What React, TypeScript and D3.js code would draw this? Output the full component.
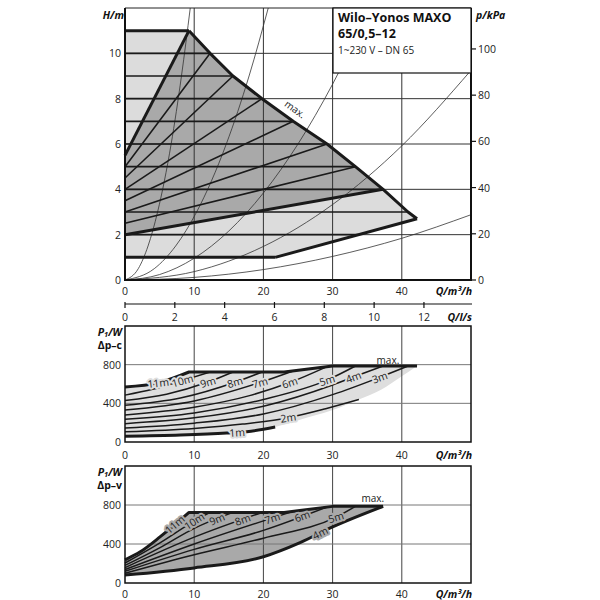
import React from 'react';
import * as d3 from 'd3';

// ---------- axis ticks ----------
const qTicks = [0, 10, 20, 30, 40];
const hTicks = [0, 2, 4, 6, 8, 10];
const kpaTicks = [0, 20, 40, 60, 80, 100];
const lsTicks = [0, 2, 4, 6, 8, 10, 12];
const pTicks = [0, 400, 800];
const qGrid = [10, 20, 30, 40];
const hGrid = [2, 4, 6, 8, 10];
const pGrid = [400, 800];

// ---------- H-Q field ----------
const headLevels = [1, 2, 3, 4, 5, 6, 7, 8, 9, 10, 11];
const dpcEndQ = [21.7, 33.8, 40.9, 37.3, 33.3, 29.2, 24.3, 19.8, 15.6, 12.3, 9.25];
const dpvLevels = [4, 5, 6, 7, 8, 9, 10, 11];
const dpvStartH = [2, 2.5, 3, 3.5, 4, 4.5, 5, 5.5];
const maxCorner: [number, number] = [42.2, 2.7];
const minCurve: [number, number][] = [[0, 1], [21.7, 1], [42.2, 2.7]];

const sysCurves: [number, number][][] = [
  [[0, 0], [1.92, 0.5], [3.33, 1.5], [4.71, 3], [6.67, 6], [8.16, 9], [9.43, 12]],
  [[0, 0], [4.23, 0.5], [7.32, 1.5], [10.35, 3], [14.64, 6], [17.93, 9], [20.7, 12]],
  [[0, 0], [5, 0.24], [10, 0.96], [15, 2.16], [20, 3.84], [25, 6.0], [30, 8.64], [35.4, 12]],
  [[0, 0], [10, 0.37], [20, 1.48], [30, 3.33], [40, 5.92], [50, 9.25]],
  [[0, 0], [10, 0.115], [20, 0.46], [30, 1.04], [40, 1.84], [50, 2.88]],
];

// ---------- P1 (Δp-c) ----------
const dpcPower: [number, number][][] = [
  [[0, 60], [8, 72], [14.7, 92], [17.6, 106], [21.7, 155]],
  [[0, 105], [10, 140], [17, 185], [23.6, 252], [29, 345], [33.8, 440]],
  [[0, 145], [10, 195], [20, 290], [30, 490], [36.8, 669], [40.9, 786]],
  [[0, 190], [10, 250], [20, 370], [30, 590], [33, 672], [37.3, 786]],
  [[0, 235], [10, 300], [20, 440], [29.2, 640], [33.3, 786]],
  [[0, 280], [10, 360], [18, 480], [23.8, 615], [29.2, 780]],
  [[0, 330], [10, 425], [19.5, 615], [24.3, 735]],
  [[0, 380], [8, 455], [15.9, 618], [19.8, 724]],
  [[0, 430], [6, 495], [12, 620], [15.6, 724]],
  [[0, 485], [4, 545], [8.3, 635], [12.3, 724]],
  [[0, 570], [4.8, 612], [9.25, 724]],
];
const dpcMinPower: [number, number][] = [[21.7, 155], [25.3, 230], [30, 330], [33.8, 440], [37, 540], [40, 680], [42.2, 786]];
const dpcLabelQ = [16.2, 23.6, 36.8, 33, 29.2, 23.8, 19.5, 15.9, 12, 8.3, 4.8];

// ---------- P1 (Δp-v) ----------
const dpvPower: [number, number][][] = [
  [[0, 82], [10, 155], [20, 269], [25.3, 414], [30, 575], [37.3, 786]],
  [[0, 100], [10, 290], [20, 460], [30.5, 675], [33.3, 786]],
  [[0, 120], [10, 345], [20, 540], [29.2, 780]],
  [[0, 138], [10, 400], [24.3, 735]],
  [[0, 158], [10, 470], [19.8, 724]],
  [[0, 180], [5, 360], [10, 560], [15.6, 724]],
  [[0, 205], [5, 410], [10, 635], [12.3, 724]],
  [[0, 238], [2.2, 320], [5.1, 475], [9.25, 724]],
];
const dpvLabelQ = [28.2, 30.5, 25.6, 21.3, 17, 13.3, 10, 7.2];

// power limit envelope
const powerLimit: [number, number][] = [[9.25, 724], [23, 724], [30, 786]];
const maxPower = 786;

// ---------- scales ----------
const xQ = d3.scaleLinear().domain([0, 50]).range([125, 471]);
const yH = d3.scaleLinear().domain([0, 12]).range([280, 8]);
const yKpa = d3.scaleLinear().domain([0, 12 * 9.81]).range([280, 8]);
const xLs = d3.scaleLinear().domain([0, 50 / 3.6]).range([125, 471]);
const yP1 = d3.scaleLinear().domain([0, 1200]).range([442, 326]);
const yP2 = d3.scaleLinear().domain([0, 1200]).range([583, 466]);

const FONT = "'Open Sans', 'DejaVu Sans', sans-serif";
const INK = '#1a1a1a';

function mkLine(ys: d3.ScaleLinear<number, number>, curve = true) {
  const l = d3.line<[number, number]>().x(d => xQ(d[0])).y(d => ys(d[1]));
  if (curve) l.curve(d3.curveMonotoneX);
  return l;
}
const lineH = mkLine(yH, false);
const sysLine = mkLine(yH, true);
const lineP1 = mkLine(yP1);
const lineP2 = mkLine(yP2);
const polyP1 = mkLine(yP1, false);
const polyP2 = mkLine(yP2, false);

const cont = (p: string | null) => 'L' + (p || '').slice(1);

function labelAt(pts: [number, number][], q: number, ys: d3.ScaleLinear<number, number>) {
  let i = 0;
  while (i < pts.length - 2 && pts[i + 1][0] < q) i++;
  const a = pts[i], b = pts[i + 1];
  const t = (q - a[0]) / (b[0] - a[0]);
  const p = a[1] + t * (b[1] - a[1]);
  const ang = Math.atan2(ys(b[1]) - ys(a[1]), xQ(b[0]) - xQ(a[0])) * 180 / Math.PI;
  return { x: xQ(q), y: ys(p), ang };
}

export default function App() {
  // top chart polygons
  const maxCurvePts: [number, number][] = [];
  for (let h = 11; h >= 3; h--) maxCurvePts.push([dpcEndQ[h - 1], h]);
  maxCurvePts.push(maxCorner);
  const lightPoly: [number, number][] = [...minCurve, ...maxCurvePts.slice().reverse(), [0, 11]];
  const darkPoly: [number, number][] = [[0, 2]];
  for (let h = 4; h <= 11; h++) darkPoly.push([dpcEndQ[h - 1], h]);
  darkPoly.push([0, 5.5]);

  // middle fill
  const p11c = dpcPower[10];
  const p1c = dpcPower[0];
  const midFill =
    lineP1(p11c) +
    cont(polyP1([...powerLimit, [maxCorner[0], maxPower]])) +
    cont(lineP1(dpcMinPower.slice().reverse())) +
    cont(lineP1(p1c.slice().reverse())) + 'Z';
  const midTop = lineP1(p11c) + cont(polyP1([...powerLimit, [maxCorner[0], maxPower]]));

  // bottom fill
  const p11v = dpvPower[7];
  const p4v = dpvPower[0];
  const dpvMaxQ = dpcEndQ[3];
  const botFill =
    lineP2(p11v) +
    cont(polyP2([...powerLimit, [dpvMaxQ, maxPower]])) +
    cont(lineP2(p4v.slice().reverse())) + 'Z';
  const botTop = lineP2(p11v) + cont(polyP2([...powerLimit, [dpvMaxQ, maxPower]]));

  const tick = { fontFamily: FONT, fontSize: 10.5, fill: '#222' } as const;
  const title = { fontFamily: FONT, fontSize: 10.5, fontWeight: 700, fontStyle: 'italic', fill: '#111' } as const;

  const lbl = (p: { x: number; y: number; ang: number }, txt: string, bg: string, key: string) => (
    <text key={key} x={p.x} y={p.y} transform={`rotate(${p.ang},${p.x},${p.y})`} textAnchor="middle"
      dominantBaseline="central" fontFamily={FONT} fontSize={10.5} fill="#222"
      stroke={bg} strokeWidth={4} paintOrder="stroke" strokeLinejoin="round">{txt}</text>
  );

  return (
    <svg width={600} height={600} style={{ position: 'absolute', left: 0, top: 0, background: '#fff' }}>
      <defs>
        <clipPath id="clipTop"><rect x={125} y={8} width={346} height={272} /></clipPath>
      </defs>

      {/* ================= TOP CHART ================= */}
      <path d={lineH(lightPoly) + 'Z'} fill="#dcdcdc" />
      <path d={lineH(darkPoly) + 'Z'} fill="#a9a9a9" />
      {qGrid.map(q => <line key={'tg' + q} x1={xQ(q)} x2={xQ(q)} y1={yH(0)} y2={yH(12)} stroke="#333" strokeWidth={1} />)}
      {hGrid.map(h => <line key={'th' + h} x1={xQ(0)} x2={xQ(50)} y1={yH(h)} y2={yH(h)} stroke="#333" strokeWidth={1} />)}
      <g clipPath="url(#clipTop)">
        {sysCurves.map((c, i) => <path key={'sc' + i} d={sysLine(c) || ''} fill="none" stroke="#333" strokeWidth={0.8} />)}
      </g>
      {headLevels.map((h, i) => (
        <line key={'dpc' + h} x1={xQ(0)} x2={xQ(dpcEndQ[i])} y1={yH(h)} y2={yH(h)} stroke={INK}
          strokeWidth={h === 1 || h === 11 ? 3 : 1.6} />
      ))}
      {dpvLevels.map((h, i) => (
        <line key={'dpv' + h} x1={xQ(0)} y1={yH(dpvStartH[i])} x2={xQ(dpcEndQ[h - 1])} y2={yH(h)} stroke={INK}
          strokeWidth={h === 4 || h === 11 ? 3 : 1.6} />
      ))}
      <path d={lineH(maxCurvePts) || ''} fill="none" stroke={INK} strokeWidth={3} strokeLinejoin="round" />
      <path d={lineH(minCurve.slice(1)) || ''} fill="none" stroke={INK} strokeWidth={3} />
      {/* frame */}
      <line x1={125} x2={471} y1={8} y2={8} stroke="#222" strokeWidth={1} />
      <line x1={125} x2={125} y1={8} y2={281} stroke="#111" strokeWidth={2} />
      <line x1={124} x2={472} y1={280} y2={280} stroke="#111" strokeWidth={2} />
      <line x1={471} x2={471} y1={8} y2={281} stroke="#111" strokeWidth={2} />
      {/* title box */}
      <rect x={333} y={8} width={138} height={65} fill="#fff" stroke="#111" strokeWidth={1.2} />
      <text x={338} y={22} fontFamily={FONT} fontSize={12.5} fontWeight={700} fill="#111">Wilo–Yonos MAXO</text>
      <text x={338} y={38} fontFamily={FONT} fontSize={12.5} fontWeight={700} fill="#111">65/0,5–12</text>
      <text x={338} y={54} fontFamily={FONT} fontSize={10} fill="#222">1~230 V – DN 65</text>
      {/* max label */}
      {(() => {
        const x = xQ(24.6), y = yH(7.55);
        return <text x={x} y={y} transform={`rotate(36,${x},${y})`} textAnchor="middle" dominantBaseline="central"
          fontFamily={FONT} fontSize={10} fill="#222">max.</text>;
      })()}
      {/* ticks */}
      {hTicks.map(h => <text key={'hl' + h} x={121} y={yH(h)} textAnchor="end" dominantBaseline="central" {...tick}>{h}</text>)}
      {kpaTicks.map(k => (
        <g key={'kp' + k}>
          <line x1={471} x2={476} y1={yKpa(k)} y2={yKpa(k)} stroke="#111" strokeWidth={1.2} />
          <text x={478} y={yKpa(k)} dominantBaseline="central" {...tick}>{k}</text>
        </g>
      ))}
      {qTicks.map(q => <text key={'ql' + q} x={xQ(q)} y={291} textAnchor="middle" dominantBaseline="central" {...tick}>{q}</text>)}
      <text x={124} y={15} textAnchor="end" dominantBaseline="central" {...title}>H/m</text>
      <text x={476} y={15} dominantBaseline="central" {...title}>p/kPa</text>
      <text x={472} y={291} textAnchor="end" dominantBaseline="central" {...title}>Q/m³/h</text>

      {/* l/s axis */}
      <line x1={125} x2={472} y1={304} y2={304} stroke="#111" strokeWidth={1.2} />
      {lsTicks.map(s => (
        <g key={'ls' + s}>
          <line x1={xLs(s)} x2={xLs(s)} y1={302} y2={308} stroke="#111" strokeWidth={1.2} />
          <text x={xLs(s)} y={317} textAnchor="middle" dominantBaseline="central" {...tick}>{s}</text>
        </g>
      ))}
      <text x={472} y={317} textAnchor="end" dominantBaseline="central" {...title}>Q/l/s</text>

      {/* ================= MIDDLE CHART ================= */}
      <path d={midFill} fill="#dedede" />
      {qGrid.map(q => <line key={'mg' + q} x1={xQ(q)} x2={xQ(q)} y1={yP1(0)} y2={yP1(1200)} stroke="#444" strokeWidth={1} />)}
      {pGrid.map(p => <line key={'mp' + p} x1={xQ(0)} x2={xQ(50)} y1={yP1(p)} y2={yP1(p)} stroke="#777" strokeWidth={1} />)}
      {dpcPower.map((c, i) => (
        i === 10 ? null :
          <path key={'pc' + i} d={lineP1(c) || ''} fill="none" stroke={INK} strokeWidth={i === 0 ? 3 : 1.5} />
      ))}
      <path d={midTop} fill="none" stroke={INK} strokeWidth={3} strokeLinejoin="round" />
      {dpcPower.map((c, i) => lbl(labelAt(c, dpcLabelQ[i], yP1), `${i + 1}m`, '#dedede', 'lc' + i))}
      <text x={xQ(38)} y={yP1(850)} textAnchor="middle" dominantBaseline="central" fontFamily={FONT} fontSize={10} fill="#222">max.</text>
      <rect x={125} y={326} width={346} height={116} fill="none" stroke="#111" strokeWidth={1.5} />
      {pTicks.map(p => <text key={'mpl' + p} x={121} y={yP1(p)} textAnchor="end" dominantBaseline="central" {...tick}>{p}</text>)}
      {qTicks.map(q => <text key={'mql' + q} x={xQ(q)} y={455} textAnchor="middle" dominantBaseline="central" {...tick}>{q}</text>)}
      <text x={472} y={455} textAnchor="end" dominantBaseline="central" {...title}>Q/m³/h</text>
      <text x={122} y={332} textAnchor="end" dominantBaseline="central" {...title}>
        P<tspan fontSize={7.5} dy={2}>1</tspan><tspan dy={-2}>/W</tspan>
      </text>
      <text x={122} y={345} textAnchor="end" dominantBaseline="central" {...title} fontStyle="normal">Δp–c</text>

      {/* ================= BOTTOM CHART ================= */}
      <path d={botFill} fill="#a9a9a9" />
      {qGrid.map(q => <line key={'bg' + q} x1={xQ(q)} x2={xQ(q)} y1={yP2(0)} y2={yP2(1200)} stroke="#444" strokeWidth={1} />)}
      {pGrid.map(p => <line key={'bp' + p} x1={xQ(0)} x2={xQ(50)} y1={yP2(p)} y2={yP2(p)} stroke="#777" strokeWidth={1} />)}
      {dpvPower.map((c, i) => (
        i === 7 ? null :
          <path key={'pv' + i} d={lineP2(c) || ''} fill="none" stroke={INK} strokeWidth={i === 0 ? 3 : 1.5} />
      ))}
      <path d={botTop} fill="none" stroke={INK} strokeWidth={3} strokeLinejoin="round" />
      {dpvPower.map((c, i) => lbl(labelAt(c, dpvLabelQ[i], yP2), `${dpvLevels[i]}m`, '#a9a9a9', 'lv' + i))}
      <text x={xQ(35.8)} y={yP2(875)} textAnchor="middle" dominantBaseline="central" fontFamily={FONT} fontSize={10} fill="#222">max.</text>
      <rect x={125} y={466} width={346} height={117} fill="none" stroke="#111" strokeWidth={1.5} />
      {pTicks.map(p => <text key={'bpl' + p} x={121} y={yP2(p)} textAnchor="end" dominantBaseline="central" {...tick}>{p}</text>)}
      {qTicks.map(q => <text key={'bql' + q} x={xQ(q)} y={594} textAnchor="middle" dominantBaseline="central" {...tick}>{q}</text>)}
      <text x={472} y={594} textAnchor="end" dominantBaseline="central" {...title}>Q/m³/h</text>
      <text x={122} y={472} textAnchor="end" dominantBaseline="central" {...title}>
        P<tspan fontSize={7.5} dy={2}>1</tspan><tspan dy={-2}>/W</tspan>
      </text>
      <text x={122} y={485} textAnchor="end" dominantBaseline="central" {...title} fontStyle="normal">Δp–v</text>
    </svg>
  );
}
